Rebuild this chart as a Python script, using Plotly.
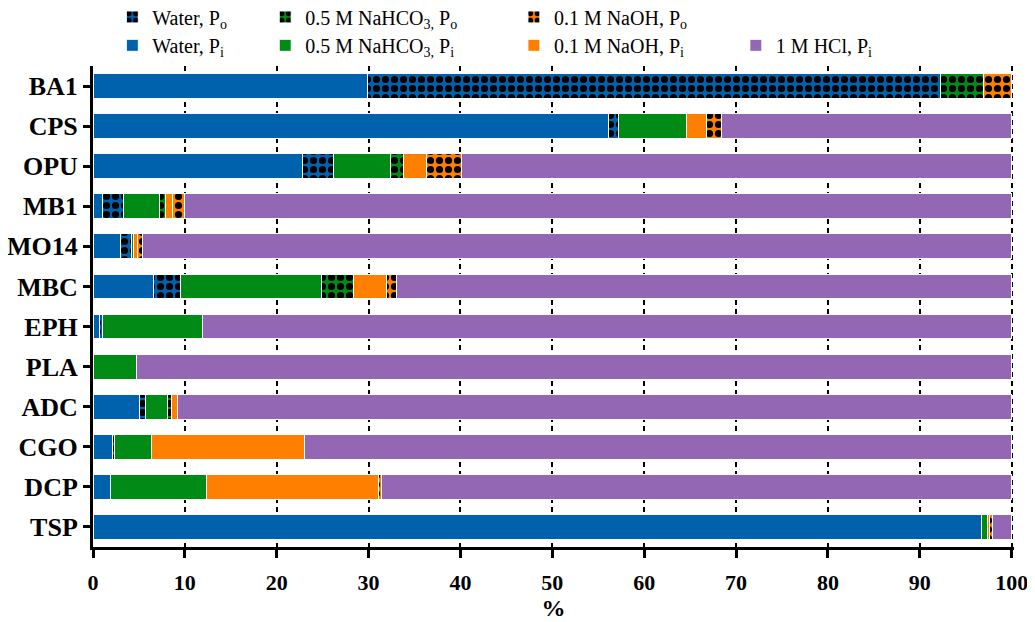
import plotly.graph_objects as go

categories = ["BA1", "CPS", "OPU", "MB1", "MO14", "MBC", "EPH", "PLA", "ADC", "CGO", "DCP", "TSP"]
x_ticks = [0, 10, 20, 30, 40, 50, 60, 70, 80, 90, 100]

water_pi  = [29.9, 56.1, 22.8, 1.0, 3.0, 6.6, 0.7, 0.0, 5.1, 2.1, 1.9, 96.7]
water_po  = [62.4, 1.1, 3.4, 2.3, 1.2, 2.9, 0.3, 0.0, 0.6, 0.2, 0.0, 0.0]
nahco3_pi = [0.0, 7.4, 6.2, 3.9, 0.2, 15.4, 10.9, 4.7, 2.4, 4.1, 10.5, 0.7]
nahco3_po = [4.6, 0.0, 1.4, 0.7, 0.0, 3.5, 0.0, 0.0, 0.4, 0.0, 0.0, 0.0]
naoh_pi   = [0.0, 2.2, 2.5, 0.8, 0.4, 3.5, 0.0, 0.0, 0.7, 16.6, 18.7, 0.2]
naoh_po   = [3.1, 1.6, 3.8, 1.3, 0.6, 1.1, 0.0, 0.0, 0.0, 0.0, 0.3, 0.3]
hcl_pi    = [0.0, 31.6, 59.9, 90.0, 94.6, 67.0, 88.1, 95.3, 90.8, 77.0, 68.6, 2.1]

BLUE = "#0061ad"
GREEN = "#008b17"
ORANGE = "#ff8000"
PURPLE = "#9467b4"
FONT = "Liberation Serif, Times New Roman, serif"

ROW1, ROW2 = 1.102, 1.043
series = [
    ("Water, P<sub>i</sub>", water_pi, BLUE, False, "legend4", ROW2, 0.021),
    ("Water, P<sub>o</sub>", water_po, BLUE, True, "legend", ROW1, 0.021),
    ("0.5 M NaHCO<sub>3,</sub> P<sub>i</sub>", nahco3_pi, GREEN, False, "legend5", ROW2, 0.187),
    ("0.5 M NaHCO<sub>3,</sub> P<sub>o</sub>", nahco3_po, GREEN, True, "legend2", ROW1, 0.187),
    ("0.1 M NaOH, P<sub>i</sub>", naoh_pi, ORANGE, False, "legend6", ROW2, 0.457),
    ("0.1 M NaOH, P<sub>o</sub>", naoh_po, ORANGE, True, "legend3", ROW1, 0.457),
    ("1 M HCl, P<sub>i</sub>", hcl_pi, PURPLE, False, "legend7", ROW2, 0.698),
]

fig = go.Figure()
legends = {}
for name, vals, color, checker, lg, ly, lx in series:
    marker = dict(color=color, line=dict(color="white", width=1))
    if checker:
        marker["pattern"] = dict(shape=".", fgcolor="black", bgcolor=color,
                                 size=9, solidity=0.5, fillmode="replace")
    fig.add_trace(go.Bar(
        y=categories, x=vals, name=name, orientation="h",
        marker=marker, legend=lg,
    ))
    legends[lg] = dict(x=lx, y=ly, xanchor="left", yanchor="middle",
                       orientation="h", bgcolor="rgba(0,0,0,0)",
                       font=dict(family=FONT, size=20, color="black"))

fig.update_layout(
    barmode="stack",
    bargap=0.38,
    width=1035, height=622,
    margin=dict(l=85, r=29, t=58, b=83, autoexpand=False),
    plot_bgcolor="white", paper_bgcolor="white",
    showlegend=True,
    **legends,
)

fig.update_xaxes(
    range=[0, 100.25],
    tickmode="array", tickvals=x_ticks,
    ticktext=["<b>%d</b>" % v for v in x_ticks],
    showline=True, linewidth=3, linecolor="black",
    ticks="outside", ticklen=8, tickwidth=3, tickcolor="black",
    ticklabelstandoff=6,
    tickfont=dict(family=FONT, size=22, color="black"),
    showgrid=True, gridcolor="black", gridwidth=2, griddash="5px,4px",
    zeroline=False, automargin=False,
    title=dict(text="<b>%</b>", font=dict(family=FONT, size=24, color="black"), standoff=2),
)
fig.update_yaxes(
    range=[11.5, -0.5],
    tickmode="array", tickvals=categories,
    ticktext=["<b>%s</b>" % c for c in categories],
    showline=True, linewidth=3, linecolor="black",
    ticks="outside", ticklen=7, tickwidth=3, tickcolor="black",
    tickfont=dict(family=FONT, size=26, color="black"),
    showgrid=False, zeroline=False, automargin=False,
)

fig.write_html("out.html")
